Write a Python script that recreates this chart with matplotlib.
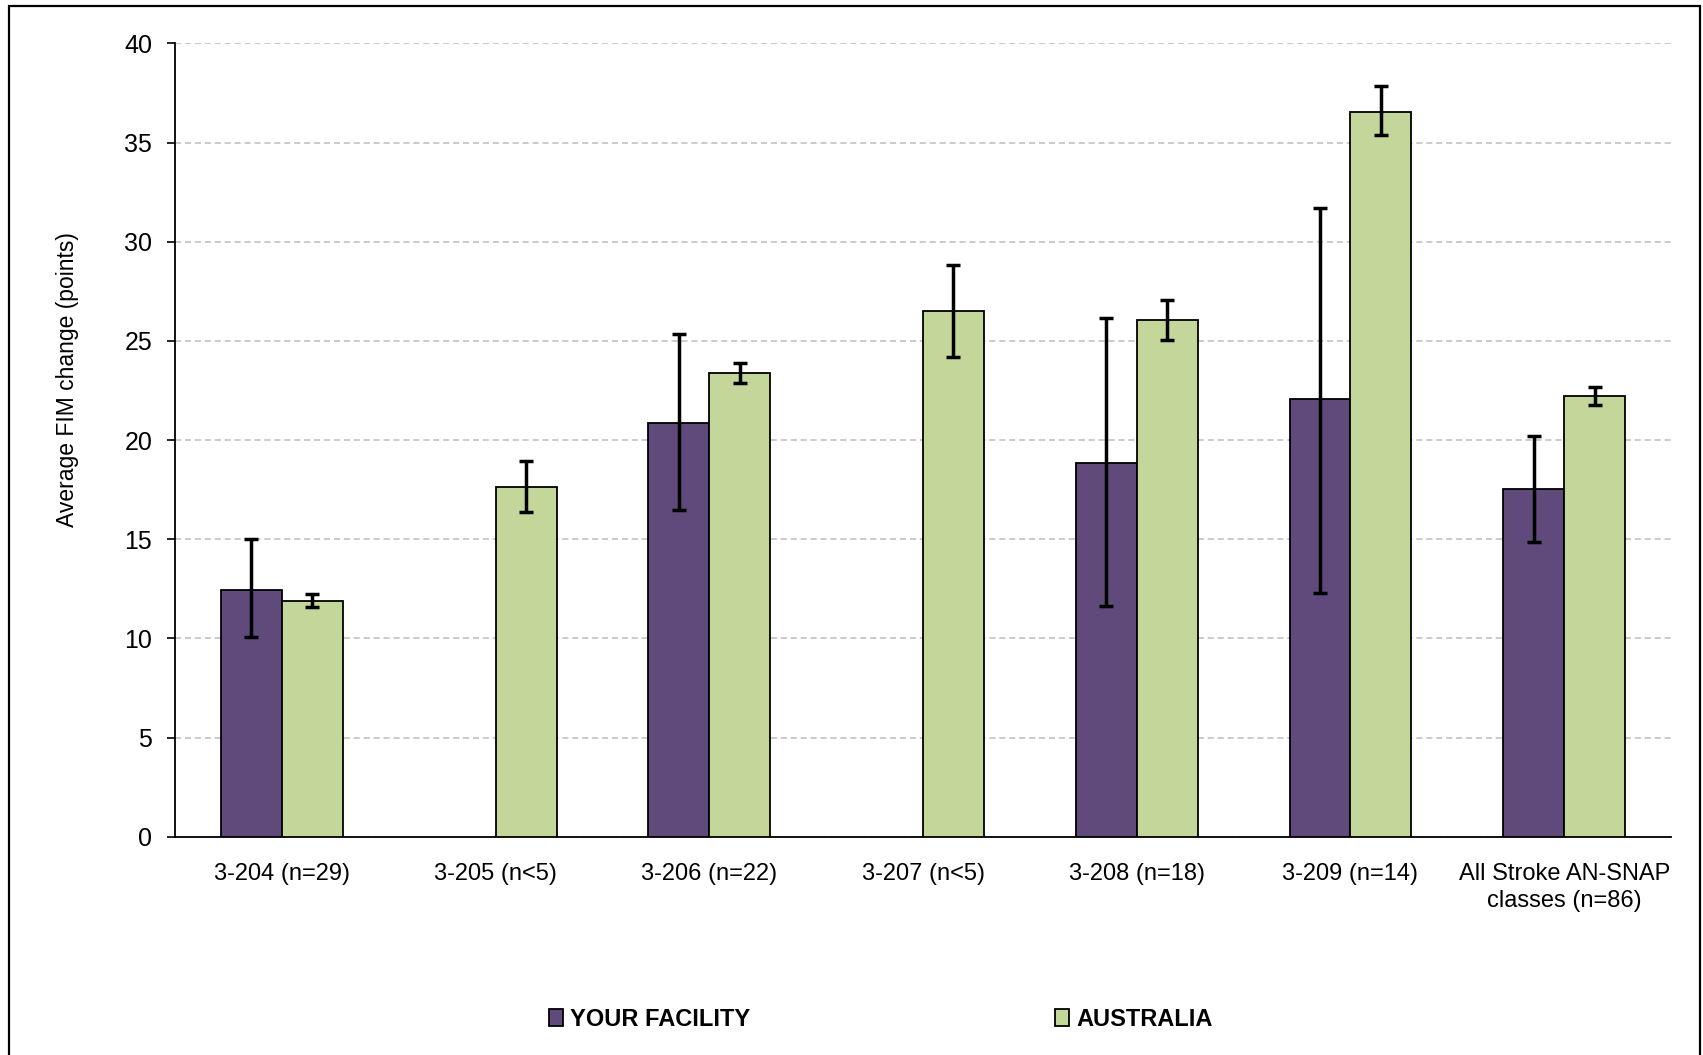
import numpy as np
import matplotlib
matplotlib.use("Agg")
import matplotlib.pyplot as plt
from matplotlib import font_manager as fm
from matplotlib.patches import Rectangle

categories = ["3-204 (n=29)", "3-205 (n<5)", "3-206 (n=22)", "3-207 (n<5)",
              "3-208 (n=18)", "3-209 (n=14)", "All Stroke AN-SNAP\nclasses (n=86)"]
facility = [12.45, np.nan, 20.85, np.nan, 18.87, 22.05, 17.53]
facility_lo = [10.05, np.nan, 16.48, np.nan, 11.65, 12.29, 14.84]
facility_hi = [15.0, np.nan, 25.34, np.nan, 26.16, 31.72, 20.2]
australia = [11.89, 17.64, 23.39, 26.52, 26.05, 36.56, 22.22]
australia_lo = [11.57, 16.36, 22.87, 24.2, 25.04, 35.4, 21.76]
australia_hi = [12.24, 18.93, 23.91, 28.82, 27.04, 37.87, 22.69]
series_names = ["YOUR FACILITY", "AUSTRALIA"]
yticks = [0, 5, 10, 15, 20, 25, 30, 35, 40]

names = {f.name for f in fm.fontManager.ttflist}
narrow = "Liberation Sans Narrow" if "Liberation Sans Narrow" in names else "Liberation Sans"
plt.rcParams["font.family"] = [narrow, "DejaVu Sans"]

PURPLE = "#604A7B"
GREEN = "#C4D79B"

fig = plt.figure(figsize=(17.03, 10.55), dpi=100)
ax = fig.add_axes([0.1028, 0.2069, 0.8784, 0.7519])

x = np.arange(len(categories))
w = 0.285
fac = np.array(facility, dtype=float)
aus = np.array(australia, dtype=float)
fac_err = np.array([fac - np.array(facility_lo), np.array(facility_hi) - fac])
aus_err = np.array([aus - np.array(australia_lo), np.array(australia_hi) - aus])

ax.bar(x - w / 2, fac, w, color=PURPLE, edgecolor="black", linewidth=1.3,
       label=series_names[0], zorder=3)
ax.bar(x + w / 2, aus, w, color=GREEN, edgecolor="black", linewidth=1.3,
       label=series_names[1], zorder=3)
ekw = dict(fmt="none", ecolor="black", elinewidth=2.5, capsize=5, capthick=2.5, zorder=4)
ax.errorbar(x - w / 2, fac, yerr=fac_err, **ekw)
ax.errorbar(x + w / 2, aus, yerr=aus_err, **ekw)

ax.set_xlim(-0.5, len(categories) - 0.5)
ax.set_ylim(0, 40)
ax.set_yticks(yticks)
ax.set_xticks(x)
ax.set_xticklabels(categories, fontsize=17, linespacing=1.3)
ax.tick_params(axis="x", length=0, pad=19)
ax.tick_params(axis="y", length=5.5, width=1.2, pad=11, labelsize=18, direction="out")
ax.yaxis.grid(True, linestyle=(0, (4, 2.5)), color="#bdbdbd", linewidth=1.1, zorder=0)
ax.set_axisbelow(True)
for s in ["top", "right"]:
    ax.spines[s].set_visible(False)
for s in ["left", "bottom"]:
    ax.spines[s].set_color("black")
    ax.spines[s].set_linewidth(1.3)

ax.set_ylabel("Average FIM change (points)", fontsize=16.5)
ax.yaxis.set_label_coords(-0.064, 0.576)

leg = fig.legend(loc="center", bbox_to_anchor=(0.517, 0.034), ncol=2, frameon=False,
                 prop={"family": [narrow, "DejaVu Sans"], "weight": "bold", "size": 17},
                 handlelength=0.6, handleheight=0.7, handletextpad=0.3,
                 columnspacing=12.9)
for h in leg.legend_handles:
    h.set_edgecolor("black")
    h.set_linewidth(1.3)

fig.patches.append(Rectangle((9 / 1703, -0.01), (1700 - 9) / 1703, 1.01 - 6 / 1055,
                             transform=fig.transFigure, fill=False,
                             edgecolor="black", linewidth=1.6))

fig.savefig("out.png", dpi=100, facecolor="white")
